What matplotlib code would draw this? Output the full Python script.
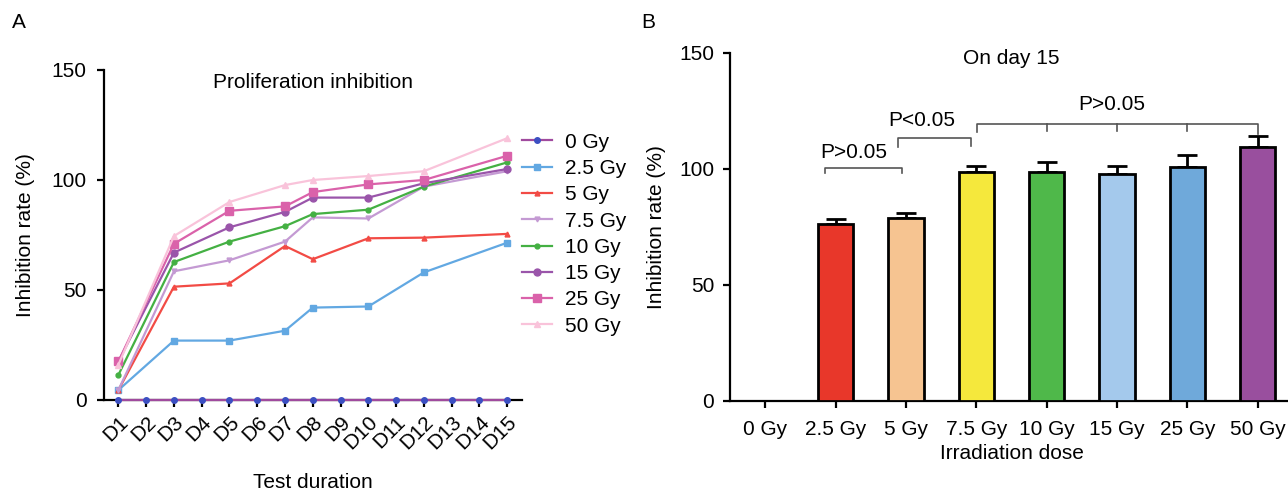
import matplotlib
matplotlib.use("Agg")
import matplotlib.pyplot as plt
import numpy as np

plt.rcParams['font.family'] = ['Liberation Sans', 'DejaVu Sans']

# ---------------- Data ----------------
all_days = list(range(1, 16))
day_labels = [f"D{d}" for d in all_days]
measured_days = [1, 3, 5, 7, 8, 10, 12, 15]

series_names = ["0 Gy", "2.5 Gy", "5 Gy", "7.5 Gy", "10 Gy", "15 Gy", "25 Gy", "50 Gy"]
gy0 = [0] * 15
gy2_5 = [4.5, 27, 27, 31.5, 42, 42.5, 58, 71.5]
gy5 = [4.5, 51.5, 53, 70, 64, 73.5, 73.8, 75.5]
gy7_5 = [4.5, 58.5, 63.5, 72, 83, 82.5, 97, 104]
gy10 = [11.4, 62.7, 72, 79, 84.5, 86.5, 97, 108]
gy15 = [17.5, 67, 78.5, 85.5, 92, 92, 98.5, 105]
gy25 = [17.5, 71, 86, 88, 94.5, 98, 100, 111]
gy50 = [16, 74.5, 90, 97.7, 100, 101.8, 104, 119]

bar_labels = ["0 Gy", "2.5 Gy", "5 Gy", "7.5 Gy", "10 Gy", "15 Gy", "25 Gy", "50 Gy"]
bar_means = [0, 76.3, 79, 98.6, 98.8, 97.9, 100.8, 109.5]
bar_errs = [0, 2.1, 1.9, 2.7, 4.4, 3.5, 5.3, 4.7]
bar_colors = ["#ffffff", "#e8372a", "#f6c491", "#f5e83c", "#4fb84a", "#a4c9ec", "#6fa9da", "#994f9e"]

# ---------------- Figure ----------------
fig = plt.figure(figsize=(12.88, 4.94), dpi=100)
FS = 15

# ---- Panel A ----
axA = fig.add_axes([0.0807, 0.1903, 0.3243, 0.668])
line_styles = [
    dict(color="#a04a9e", marker="o", ms=4, mfc="#3c4fc2", mec="#3c4fc2"),
    dict(color="#62a8e2", marker="s", ms=4),
    dict(color="#f24b45", marker="^", ms=3.5),
    dict(color="#c49ad3", marker="v", ms=3.5),
    dict(color="#44b043", marker="o", ms=3.5),
    dict(color="#9a55aa", marker="o", ms=5),
    dict(color="#da62aa", marker="s", ms=5.5),
    dict(color="#f9c3da", marker="^", ms=5),
]
series = [gy2_5, gy5, gy7_5, gy10, gy15, gy25, gy50]
handles = []
h0, = axA.plot(all_days, gy0, lw=1.6, label=series_names[0], clip_on=False, zorder=5, **line_styles[0])
handles.append(h0)
for name, vals, st in zip(series_names[1:], series, line_styles[1:]):
    h, = axA.plot(measured_days, vals, lw=1.6, label=name, clip_on=False, **st)
    handles.append(h)

axA.set_xlim(0.48, 15.52)
axA.set_ylim(0, 150)
axA.set_yticks([0, 50, 100, 150])
axA.set_xticks(all_days)
axA.set_xticklabels(day_labels, rotation=45, ha="right", rotation_mode="anchor")
for s in ["top", "right"]:
    axA.spines[s].set_visible(False)
for s in ["left", "bottom"]:
    axA.spines[s].set_linewidth(1.6)
axA.tick_params(axis="both", labelsize=FS, width=1.6, length=5, direction="out")
axA.tick_params(axis="x", pad=4)
axA.tick_params(axis="y", pad=7.5)
axA.set_ylabel("Inhibition rate (%)", fontsize=FS, labelpad=12)
axA.set_xlabel("Test duration", fontsize=FS, labelpad=14)
axA.text(0.5, 0.99, "Proliferation inhibition", transform=axA.transAxes,
         ha="center", va="top", fontsize=FS)
axA.legend(handles=handles, loc="upper left", bbox_to_anchor=(1.0, 0.81),
           frameon=False, fontsize=FS, handlelength=1.45, handletextpad=0.65,
           labelspacing=0.35, borderaxespad=0, borderpad=0)

fig.text(0.009, 0.955, "A", fontsize=FS, ha="left", va="center")
fig.text(0.4975, 0.955, "B", fontsize=FS, ha="left", va="center")

# ---- Panel B ----
axB = fig.add_axes([0.5668, 0.1883, 0.4371, 0.7045])
x = np.arange(len(bar_labels))
axB.bar(x, bar_means, width=0.5, color=bar_colors, edgecolor="black", linewidth=2, zorder=3)
lower = [0] * len(bar_errs)
axB.errorbar(x[1:], bar_means[1:], yerr=[lower[1:], bar_errs[1:]], fmt="none",
             ecolor="black", elinewidth=2, capsize=7, capthick=2, zorder=2)
axB.set_xlim(-0.5, 7.5)
axB.set_ylim(0, 150)
axB.set_yticks([0, 50, 100, 150])
axB.set_xticks(x)
axB.set_xticklabels(bar_labels)
for s in ["top", "right"]:
    axB.spines[s].set_visible(False)
for s in ["left", "bottom"]:
    axB.spines[s].set_linewidth(1.6)
axB.tick_params(axis="both", labelsize=FS, width=1.6, length=5, direction="out")
axB.tick_params(axis="x", pad=9)
axB.tick_params(axis="y", pad=6.5)
axB.set_ylabel("Inhibition rate (%)", fontsize=FS, labelpad=9)
axB.set_xlabel("Irradiation dose", fontsize=FS, labelpad=3)
axB.text(3.5, 147.5, "On day 15", ha="center", va="center", fontsize=FS)

# significance brackets
bc = "#555555"
def bracket(x0, x1, y, drop0, drop1, mids=()):
    axB.plot([x0, x0, x1, x1], [y - drop0, y, y, y - drop1], color=bc, lw=1.2, clip_on=False)
    for m in mids:
        axB.plot([m, m], [y, y - 3], color=bc, lw=1.2)

bracket(0.85, 1.95, 100.6, 2.5, 2.5)
axB.text(1.26, 107, "P>0.05", ha="center", va="center", fontsize=FS)
bracket(1.88, 2.93, 113.2, 3.8, 3.5)
axB.text(2.22, 120.8, "P<0.05", ha="center", va="center", fontsize=FS)
bracket(3.01, 7.0, 119.4, 3.5, 4.5, mids=(4, 5, 6))
axB.text(4.93, 127.6, "P>0.05", ha="center", va="center", fontsize=FS)

fig.savefig("out.png", dpi=100)
